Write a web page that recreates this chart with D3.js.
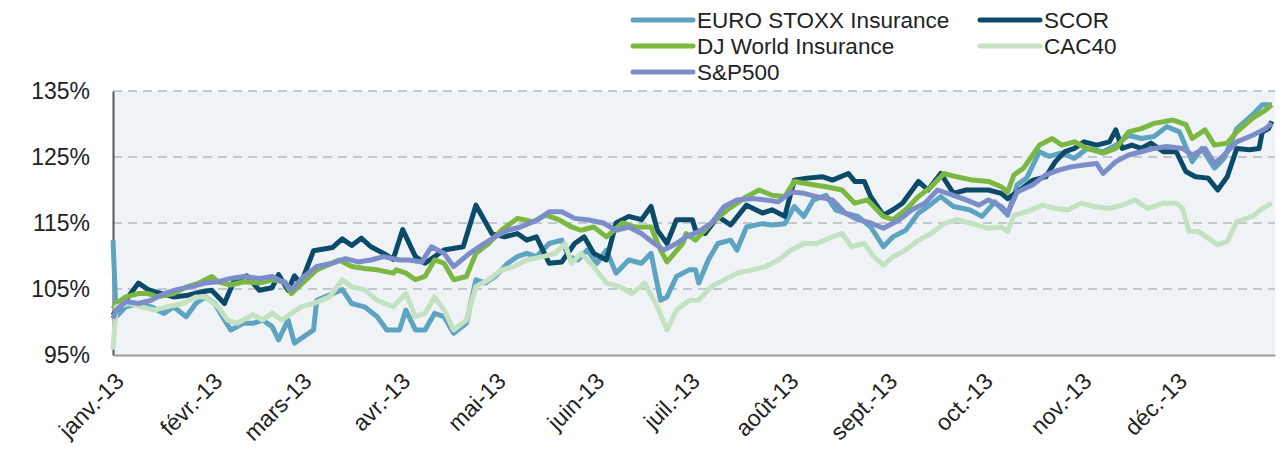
<!DOCTYPE html>
<html>
<head>
<meta charset="utf-8">
<script src="https://cdn.jsdelivr.net/npm/d3@7"></script>
<style>
  html, body { margin: 0; padding: 0; background: #fff; overflow: hidden; }
  svg { display: block; }
  text { font-family: "Liberation Sans", Arial, sans-serif; fill: #222; }
</style>
</head>
<body>
<div id="chart"></div>
<script>
const width = 1287;
const height = 456;
const margin = { top: 91, right: 12, bottom: 101, left: 113 };
const innerWidth = width - margin.left - margin.right;
const innerHeight = height - margin.top - margin.bottom;

// day of year (from 1 Jan 2013), index level in %
const euroStoxx = [[0,112.4],[1,100.8],[4,102.3],[8,102.8],[12,102.3],[16,101.3],[19,102.3],[23,100.8],[26,102.8],[29,103.8],[32,102.8],[35,100.3],[37,98.8],[41,99.8],[44,99.8],[47,100.3],[50,99.3],[52,97.3],[55,100.3],[57,96.8],[60,97.8],[63,98.8],[64,103.3],[69,104.3],[72,104.9],[75,102.8],[79,102.3],[83,100.8],[86,98.8],[90,98.8],[92,101.8],[95,98.8],[98,98.8],[101,101.3],[104,100.8],[107,98.3],[111,99.8],[114,106.4],[117,105.9],[120,106.9],[124,108.9],[127,109.9],[130,110.4],[133,109.9],[137,111.9],[141,112.4],[143,109.9],[146,109.4],[149,110.9],[152,108.9],[155,110.9],[158,107.4],[162,109.4],[166,108.9],[169,110.4],[172,103.3],[174,103.8],[177,106.9],[181,107.9],[183,107.9],[184,105.9],[187,109.4],[190,111.9],[194,112.4],[196,110.9],[199,114.4],[204,114.9],[207,114.7],[211,114.9],[214,117.5],[217,116],[220,118.5],[224,119.2],[227,117],[230,116.5],[234,116],[238,114.4],[242,111.4],[245,112.9],[249,113.9],[253,116.5],[256,117.5],[260,119],[264,117.5],[269,117],[273,116],[277,118.2],[281,116.2],[284,120.8],[287,121.8],[291,125.8],[294,125.1],[298,125.6],[302,124.8],[306,126.3],[311,125.8],[315,126.8],[319,128.3],[323,127.8],[327,128.1],[331,129.6],[335,128.8],[339,124.3],[342,126.3],[346,123.3],[349,124.8],[353,129.3],[358,131.4],[361,132.9],[364,132.9]];

const scor = [[0,101],[1,101.8],[4,103.3],[8,105.9],[11,104.9],[14,104.5],[19,103.8],[23,104],[27,104.5],[31,104.8],[35,102.8],[38,106.2],[42,107],[46,104.8],[50,105.2],[52,107.2],[55,104.8],[57,107],[59,105.8],[63,110.8],[69,111.3],[72,112.6],[75,111.6],[78,112.7],[81,111.4],[85,110.4],[88,109.5],[91,114],[95,109.9],[98,108.9],[104,110.9],[110,111.4],[114,117.7],[119,113.4],[123,112.9],[127,113.4],[130,112.4],[133,112.9],[137,108.9],[141,109.1],[145,111.9],[148,112.9],[151,110.4],[155,109.4],[158,115],[162,116],[166,115.5],[169,117.5],[171,113.9],[174,111.9],[177,115.5],[182,115.5],[183,113.9],[186,113.4],[190,116],[194,114.7],[199,117.7],[204,116.5],[207,117],[211,116],[214,121.5],[218,121.8],[223,122],[226,121.5],[231,122.5],[233,121.3],[236,121.3],[238,119],[242,116.2],[245,117],[248,118],[253,121.3],[256,120],[260,122.5],[264,119.5],[268,120],[272,120],[275,120],[279,119.5],[281,118.7],[284,119.7],[289,121.5],[293,122],[296,124.3],[299,125.8],[302,126.3],[305,127.3],[309,126.8],[313,127.3],[315,129.1],[317,126.3],[320,126.8],[323,126.3],[326,127.1],[330,125.8],[334,125.8],[337,122.8],[340,122],[344,121.8],[347,120],[350,122],[353,126.3],[357,126.1],[360,126.3],[361,128.8],[363,129.3],[364,130.4]];

const djWorld = [[0,102],[1,102.8],[4,103.8],[8,104.3],[11,104.3],[14,103.8],[19,104.3],[23,105.3],[27,105.9],[31,106.9],[33,106.1],[37,105.6],[41,106.1],[46,105.9],[50,106.4],[54,106.1],[56,104.3],[60,106.1],[64,107.9],[71,109.4],[75,108.4],[79,108.1],[83,107.9],[88,107.4],[89,107.9],[92,107.4],[95,106.4],[98,106.9],[101,109.4],[104,108.9],[107,106.4],[111,106.9],[114,110.4],[118,111.9],[122,113.9],[127,115.7],[132,115.2],[136,116.2],[140,115.5],[144,114.4],[147,113.9],[151,114.4],[155,112.9],[160,115],[164,114.4],[169,114.4],[172,110.9],[174,109.1],[179,111.9],[180,113.4],[183,112.4],[188,115],[193,117],[199,119],[203,120],[207,119.2],[211,119],[214,121.3],[220,120.8],[224,120.5],[229,120],[233,118],[237,118.5],[242,116],[245,115.5],[249,117],[253,119],[257,120.5],[261,122.5],[265,122],[270,121.5],[275,121.3],[279,120.5],[281,119.7],[283,122.3],[286,123.3],[291,126.8],[295,127.8],[298,126.8],[302,127.3],[306,126.3],[311,125.6],[315,126.3],[319,128.8],[323,129.3],[327,130.1],[333,130.6],[337,129.9],[339,127.8],[343,129.1],[346,126.8],[350,127.1],[353,128.8],[358,130.9],[362,132.1],[364,132.9]];

const cac40 = [[0,95.8],[1,102.3],[5,102.8],[9,102.3],[13,101.8],[17,102.3],[22,102.8],[26,103.8],[29,103.8],[33,102.3],[36,100.3],[39,99.8],[44,101.1],[47,100.3],[50,101.3],[53,100.3],[56,101.3],[59,102.3],[63,102.8],[68,103.8],[72,106.4],[75,105.3],[79,104.9],[83,103.3],[88,102.3],[92,104.3],[95,100.8],[98,101.3],[101,103.8],[104,101.8],[107,98.8],[111,100.3],[114,105.4],[118,106.4],[122,107.9],[126,108.4],[130,109.4],[135,109.9],[139,110.4],[142,111.9],[144,108.9],[147,110.4],[151,108.4],[155,105.9],[159,105.4],[163,104.3],[167,105.9],[171,102.3],[174,98.8],[177,101.8],[181,103.3],[184,103.3],[188,105.4],[192,106.4],[196,107.4],[201,107.9],[205,108.4],[209,109.4],[213,110.9],[217,111.9],[221,111.9],[226,112.9],[229,113.4],[232,111.4],[236,111.9],[239,109.9],[242,108.6],[245,109.9],[249,110.9],[253,112.4],[257,113.4],[261,114.9],[265,115.5],[270,114.9],[275,114.2],[279,114.4],[281,113.7],[283,116.2],[287,116.7],[292,117.7],[296,117.2],[300,117],[304,118],[308,117.5],[313,117.2],[317,117.7],[321,118.5],[325,117.2],[330,118],[334,118],[336,117.2],[338,113.7],[341,113.7],[344,112.7],[347,111.7],[350,112.2],[353,115.2],[358,116],[361,117.2],[364,118]];

const sp500 = [[0,100.5],[1,101.8],[4,103.1],[8,102.8],[12,103.3],[16,104.3],[20,104.9],[25,105.4],[29,105.9],[33,106.1],[37,106.6],[41,106.9],[46,106.6],[50,106.9],[54,105.9],[56,104.9],[60,106.9],[64,108.4],[69,108.9],[73,109.6],[77,109.1],[81,109.4],[85,109.9],[90,109.4],[93,109.4],[97,109.1],[100,111.4],[104,110.4],[107,108.4],[112,110.4],[116,111.7],[120,112.9],[124,113.9],[128,114.4],[133,115.4],[137,116.7],[141,116.7],[145,115.7],[149,115.5],[154,115],[158,113.9],[162,114.4],[166,113.4],[170,111.9],[173,110.9],[177,111.9],[180,112.9],[184,113.7],[188,115],[192,117.5],[196,118.5],[201,118.7],[205,118.5],[209,118.2],[213,119.7],[217,119.5],[221,119],[226,118.5],[230,116.5],[234,115.5],[238,115],[242,114.2],[247,115.5],[251,117],[255,118],[259,120],[264,119.2],[268,118.5],[272,117.7],[275,118.5],[279,117.5],[281,116.5],[284,119.7],[289,120.8],[293,122.3],[297,123],[301,123.5],[305,123.8],[309,124],[311,122.5],[315,124.3],[319,125.3],[323,125.8],[327,126.3],[331,126.6],[336,126.3],[339,125.3],[343,126.3],[346,124],[349,125.3],[353,127.3],[358,128.3],[362,129.3],[364,130.1]];

const seriesNames = ["EURO STOXX Insurance", "SCOR", "DJ World Insurance", "CAC40", "S&P500"];
const seriesData = [euroStoxx, scor, djWorld, cac40, sp500];
const seriesColors = ["#5ea3c1", "#0c4a6a", "#7cb741", "#c4e2c2", "#7c8ec9"];

const monthLabels = ["janv.-13", "févr.-13", "mars-13", "avr.-13", "mai-13", "juin-13",
                     "juil.-13", "août-13", "sept.-13", "oct.-13", "nov.-13", "déc.-13"];
const yTicks = [95, 105, 115, 125, 135];

const start = new Date(2013, 0, 1);
const dayToDate = d => d3.timeDay.offset(start, d);

const svg = d3.select('#chart')
              .append('svg')
              .attr('width', width)
              .attr('height', height);

const xScale = d3.scaleTime()
                 .domain([start, new Date(2014, 0, 1)])
                 .range([0, innerWidth]);

const yScale = d3.scaleLinear()
                 .domain([95, 135])
                 .range([innerHeight, 0]);

const g = svg.append('g')
             .attr('transform', `translate(${margin.left},${margin.top})`);

// plot background
g.append('rect')
 .attr('width', innerWidth)
 .attr('height', innerHeight)
 .attr('fill', '#eff3f6');

// dashed gridlines
g.append('g').selectAll('line')
 .data(yTicks.slice(1))
 .enter()
 .append('line')
 .attr('x1', 0)
 .attr('x2', innerWidth)
 .attr('y1', d => yScale(d))
 .attr('y2', d => yScale(d))
 .attr('stroke', '#b4bac2')
 .attr('stroke-width', 1.5)
 .attr('stroke-dasharray', '9,6');

// y axis
const yAxis = d3.axisLeft(yScale)
                .tickValues(yTicks)
                .tickFormat(d => d + '%')
                .tickSize(0)
                .tickPadding(23);

g.append('g').attr('class', 'yaxis').call(yAxis)
 .call(s => s.select('.domain').attr('stroke', '#555').attr('stroke-width', 2))
 .selectAll('text')
 .style('font-size', '23px');

// x axis
const months = d3.timeMonth.range(start, new Date(2014, 0, 1));
const xAxis = d3.axisBottom(xScale)
                .tickValues(months)
                .tickFormat((d, i) => monthLabels[i])
                .tickSize(0);

g.append('g')
 .attr('class', 'xaxis')
 .attr('transform', `translate(0,${innerHeight})`)
 .call(xAxis)
 .call(s => s.select('.domain').attr('stroke', '#9a9a9a').attr('stroke-width', 2))
 .selectAll('text')
 .attr('text-anchor', 'end')
 .attr('y', 0)
 .attr('dy', '0.35em')
 .attr('transform', 'translate(6,22) rotate(-45)')
 .style('font-size', '23px');

// series lines
const line = d3.line()
               .x(d => xScale(dayToDate(d[0])))
               .y(d => yScale(d[1]));

g.append('g').selectAll('path')
 .data(seriesData)
 .enter()
 .append('path')
 .attr('d', line)
 .attr('fill', 'none')
 .attr('stroke', (d, i) => seriesColors[i])
 .attr('stroke-width', 5)
 .attr('stroke-linejoin', 'round');

// legend
const legendPos = [[633, 20], [980, 20], [633, 46], [980, 46], [633, 72]];
const legend = svg.append('g').selectAll('g')
                  .data(seriesNames)
                  .enter()
                  .append('g')
                  .attr('transform', (d, i) => `translate(${legendPos[i][0]},${legendPos[i][1]})`);

legend.append('line')
      .attr('x1', 0)
      .attr('x2', 60)
      .attr('stroke', (d, i) => seriesColors[i])
      .attr('stroke-width', 5)
      .attr('stroke-linecap', 'round');

legend.append('text')
      .attr('x', 64)
      .attr('dy', '0.35em')
      .style('font-size', '22.5px')
      .text(d => d);
</script>
</body>
</html>
